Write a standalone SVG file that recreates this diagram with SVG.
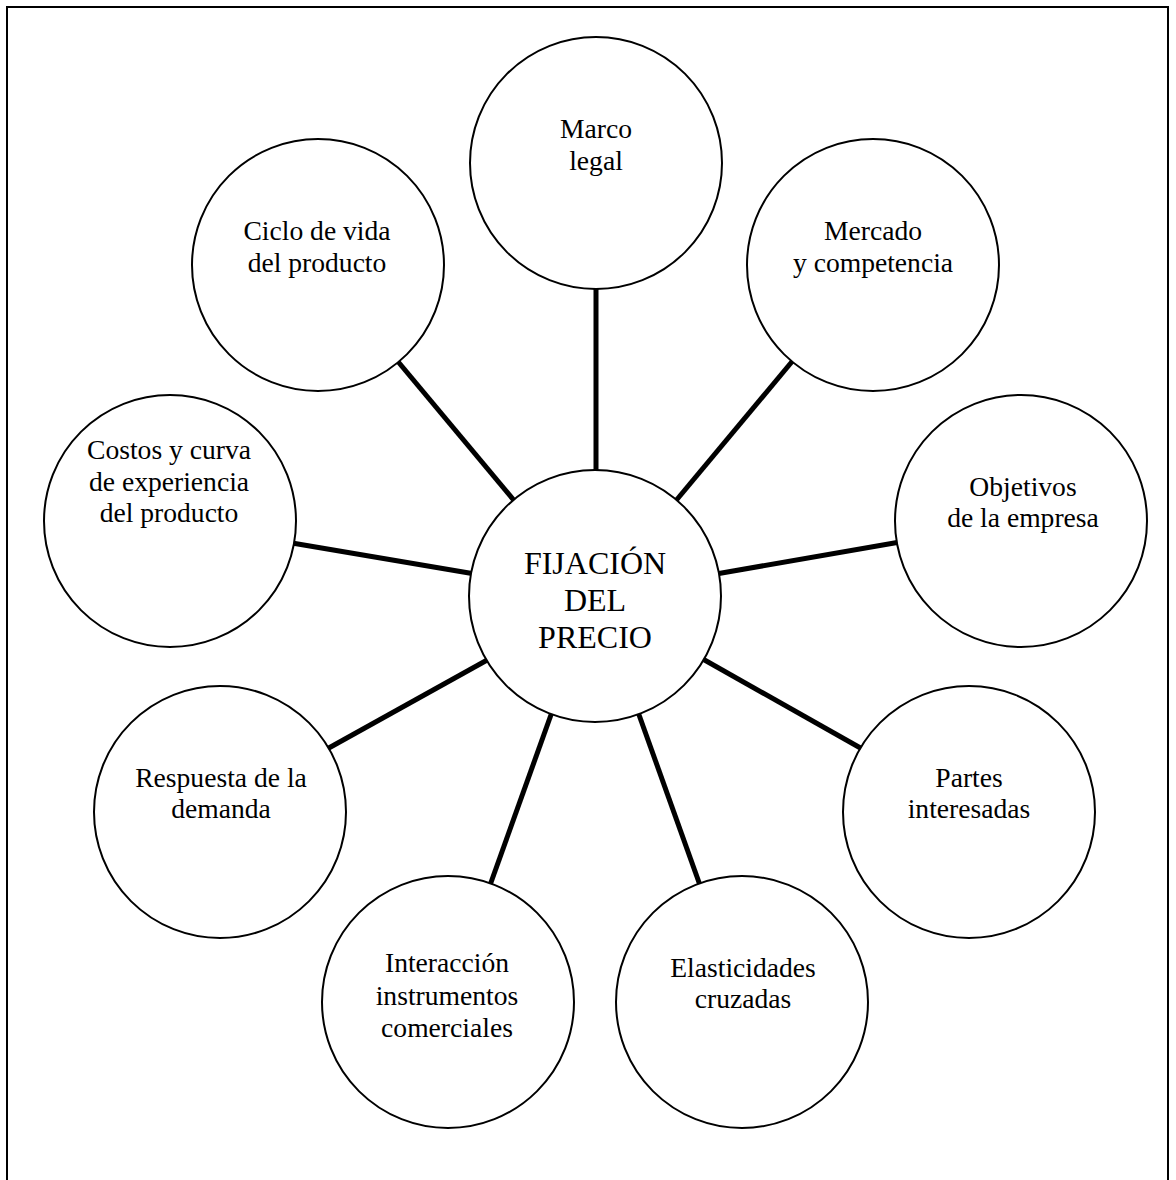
<svg xmlns="http://www.w3.org/2000/svg" width="1176" height="1180" viewBox="0 0 1176 1180">
  <style>
    .frame { fill: none; stroke: #000; stroke-width: 2; }
    .link { stroke: #000; stroke-width: 5; stroke-linecap: butt; }
    .bubble { fill: #fff; stroke: #000; stroke-width: 2; }
    .label { font-family: "Liberation Serif", "Times New Roman", serif; font-size: 27.6px; fill: #000; text-anchor: middle; }
    .hub { font-size: 32px; }
  </style>

  <rect width="1176" height="1180" fill="#fff"/>
  <rect class="frame" x="7" y="7" width="1161" height="1200"/>

  <!-- spokes from the hub to each factor -->
  <g id="connectors">
    <line class="link" x1="596" y1="285" x2="596" y2="474"/>
    <line class="link" x1="795" y1="358" x2="674" y2="503"/>
    <line class="link" x1="900" y1="542" x2="716" y2="574"/>
    <line class="link" x1="864" y1="750" x2="701" y2="658"/>
    <line class="link" x1="701" y1="888" x2="638" y2="712"/>
    <line class="link" x1="489" y1="888" x2="552" y2="712"/>
    <line class="link" x1="327" y1="749" x2="489" y2="659"/>
    <line class="link" x1="292" y1="543" x2="475" y2="574"/>
    <line class="link" x1="395" y1="358" x2="517" y2="504"/>
  </g>

  <g id="hub">
    <circle class="bubble" cx="595" cy="596" r="126"/>
    <text class="label hub" x="595" y="574">FIJACIÓN</text>
    <text class="label hub" x="595" y="611">DEL</text>
    <text class="label hub" x="595" y="648">PRECIO</text>
  </g>

  <g id="marco-legal">
    <circle class="bubble" cx="596" cy="163" r="126"/>
    <text class="label" x="596" y="138">Marco</text>
    <text class="label" x="596" y="170">legal</text>
  </g>

  <g id="mercado-competencia">
    <circle class="bubble" cx="873" cy="265" r="126"/>
    <text class="label" x="873" y="240">Mercado</text>
    <text class="label" x="873" y="272">y competencia</text>
  </g>

  <g id="objetivos-empresa">
    <circle class="bubble" cx="1021" cy="521" r="126"/>
    <text class="label" x="1023" y="496">Objetivos</text>
    <text class="label" x="1023" y="527">de la empresa</text>
  </g>

  <g id="partes-interesadas">
    <circle class="bubble" cx="969" cy="812" r="126"/>
    <text class="label" x="969" y="787">Partes</text>
    <text class="label" x="969" y="818">interesadas</text>
  </g>

  <g id="elasticidades-cruzadas">
    <circle class="bubble" cx="742" cy="1002" r="126"/>
    <text class="label" x="743" y="977">Elasticidades</text>
    <text class="label" x="743" y="1008">cruzadas</text>
  </g>

  <g id="interaccion-instrumentos">
    <circle class="bubble" cx="448" cy="1002" r="126"/>
    <text class="label" x="447" y="972">Interacción</text>
    <text class="label" x="447" y="1005">instrumentos</text>
    <text class="label" x="447" y="1037">comerciales</text>
  </g>

  <g id="respuesta-demanda">
    <circle class="bubble" cx="220" cy="812" r="126"/>
    <text class="label" x="221" y="787">Respuesta de la</text>
    <text class="label" x="221" y="818">demanda</text>
  </g>

  <g id="costos-experiencia">
    <circle class="bubble" cx="170" cy="521" r="126"/>
    <text class="label" x="169" y="459">Costos y curva</text>
    <text class="label" x="169" y="491">de experiencia</text>
    <text class="label" x="169" y="522">del producto</text>
  </g>

  <g id="ciclo-vida">
    <circle class="bubble" cx="318" cy="265" r="126"/>
    <text class="label" x="317" y="240">Ciclo de vida</text>
    <text class="label" x="317" y="272">del producto</text>
  </g>
</svg>
